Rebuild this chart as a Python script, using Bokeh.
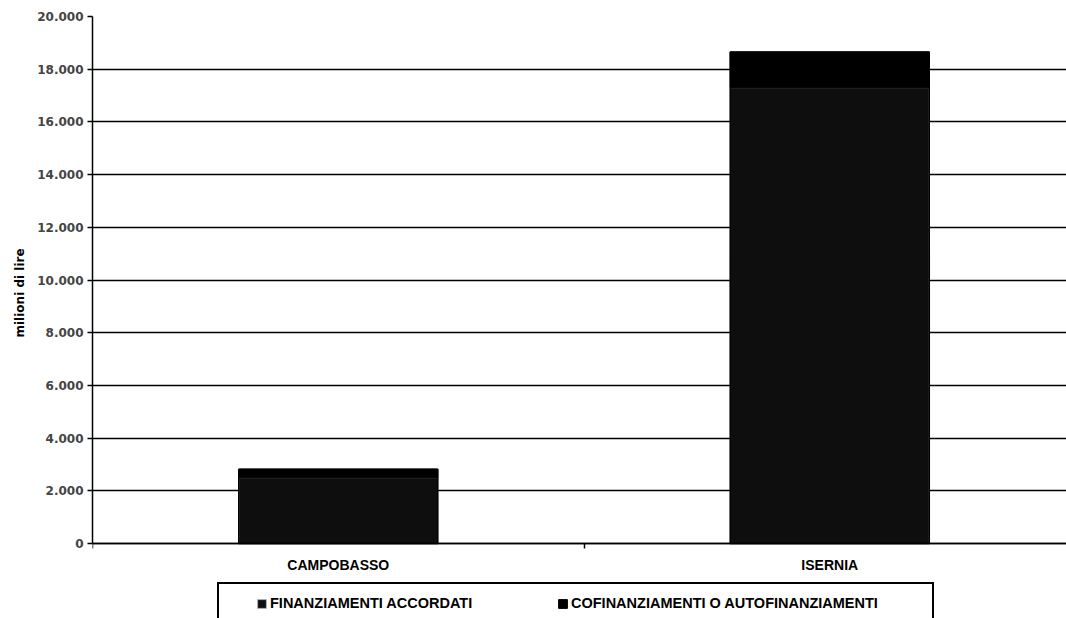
from bokeh.plotting import figure
from bokeh.models import (ColumnDataSource, Range1d, FixedTicker, Legend,
                          LegendItem, Title)
from bokeh.embed import file_html
from bokeh.resources import INLINE

# ---- data ----
categories = ["CAMPOBASSO", "ISERNIA"]
finanziamenti_accordati = [2500, 17300]
cofinanziamenti = [320, 1350]
series_labels = ["FINANZIAMENTI ACCORDATI", "COFINANZIAMENTI O AUTOFINANZIAMENTI"]
y_tick_values = [0, 2000, 4000, 6000, 8000, 10000, 12000, 14000, 16000, 18000, 20000]
y_tick_labels = ["0", "2.000", "4.000", "6.000", "8.000", "10.000",
                 "12.000", "14.000", "16.000", "18.000", "20.000"]
y_axis_title = "milioni di lire"

xpos = [i + 0.5 for i in range(len(categories))]
tops = [a + b for a, b in zip(finanziamenti_accordati, cofinanziamenti)]
source = ColumnDataSource(dict(x=xpos, acc=finanziamenti_accordati, top=tops))

# layout: frame from y=16 to the bottom of the page; value 0 sits 75px above it
W, H = 1066, 618
TOP, LEFT = 16, 92
ZERO_FROM_BOTTOM = 75
frame_h = H - TOP
y_max = y_tick_values[-1]
y_min = -ZERO_FROM_BOTTOM * y_max / (frame_h - ZERO_FROM_BOTTOM)
CAT_PX = 491.5
x_max = (W - LEFT) / CAT_PX

p = figure(width=W, height=H, output_backend="svg", toolbar_location=None,
           x_range=Range1d(0, x_max), y_range=Range1d(y_min, y_max),
           min_border_left=LEFT, min_border_right=0, min_border_top=TOP,
           min_border_bottom=0)
p.outline_line_color = None
p.background_fill_color = "white"
p.border_fill_color = "white"

BAR_W = 0.405
r1 = p.vbar(x="x", width=BAR_W, bottom=0, top="acc", source=source,
            fill_color="#0e0e0e", line_color="#b0b0b0", line_width=1)
r2 = p.vbar(x="x", width=BAR_W, bottom="acc", top="top", source=source,
            fill_color="black", line_color="black", line_width=1)
p.vbar(x="x", width=BAR_W, bottom=0, top="top", source=source,
       fill_color=None, line_color="black", line_width=1.5)

# grid
p.xgrid.grid_line_color = None
p.ygrid.ticker = FixedTicker(ticks=y_tick_values)
p.ygrid.grid_line_color = "black"
p.ygrid.grid_line_width = 1.5

# y axis
p.yaxis.ticker = FixedTicker(ticks=y_tick_values)
p.yaxis.bounds = (0, y_max)
p.yaxis.major_label_overrides = {v: l for v, l in zip(y_tick_values, y_tick_labels)}
p.yaxis.major_label_text_font = "DejaVu Sans"
p.yaxis.major_label_text_font_style = "bold"
p.yaxis.major_label_text_font_size = "12px"
p.yaxis.major_label_standoff = 4
p.yaxis.major_tick_out = 5
p.yaxis.major_tick_in = 0
p.yaxis.minor_tick_line_color = None
p.yaxis.axis_line_width = 1.5
p.yaxis.major_tick_line_width = 1.5

# y axis title, placed along the 0..20.000 span
y_title = Title(text=y_axis_title, align="left", offset=281, standoff=16,
                text_font="DejaVu Sans", text_font_style="bold",
                text_font_size="12px", text_color="black")
p.add_layout(y_title, "left")

# x axis drawn at value 0 inside the frame
p.xaxis.fixed_location = 0
p.xaxis.ticker = FixedTicker(ticks=xpos, minor_ticks=[0, 1])
p.xaxis.major_label_overrides = {x: c for x, c in zip(xpos, categories)}
p.xaxis.major_tick_line_color = None
p.xaxis.major_tick_out = 0
p.xaxis.major_tick_in = 0
p.xaxis.minor_tick_out = 5
p.xaxis.minor_tick_in = 0
p.xaxis.minor_tick_line_width = 1.5
p.xaxis.axis_line_width = 1.5
p.xaxis.major_label_standoff = 8
p.xaxis.major_label_text_font = "Liberation Sans"
p.xaxis.major_label_text_font_style = "bold"
p.xaxis.major_label_text_font_size = "14px"
p.xaxis.major_label_text_color = "black"

# legend frame (runs off the bottom edge, as in the reference)
box_legend = Legend(items=[LegendItem(label=" ", renderers=[])],
                    location=(125, -28), padding=0, margin=0,
                    glyph_width=13, glyph_height=60, label_width=700,
                    label_height=60, label_standoff=0,
                    border_line_color="black", border_line_width=2,
                    border_line_alpha=1.0,
                    background_fill_color="white", background_fill_alpha=1)
p.add_layout(box_legend)

items_legend = Legend(items=[LegendItem(label=series_labels[0], renderers=[r1]),
                             LegendItem(label=series_labels[1], renderers=[r2])],
                      location=(164, 5), orientation="horizontal",
                      padding=0, spacing=0, margin=0,
                      glyph_width=11, glyph_height=11, label_standoff=3,
                      label_width=287, label_height=20,
                      label_text_font="Liberation Sans",
                      label_text_font_style="bold",
                      label_text_font_size="14.5px",
                      label_text_color="black",
                      border_line_color=None, background_fill_alpha=0)
p.add_layout(items_legend)

open("out.html", "w").write(file_html(p, INLINE))
